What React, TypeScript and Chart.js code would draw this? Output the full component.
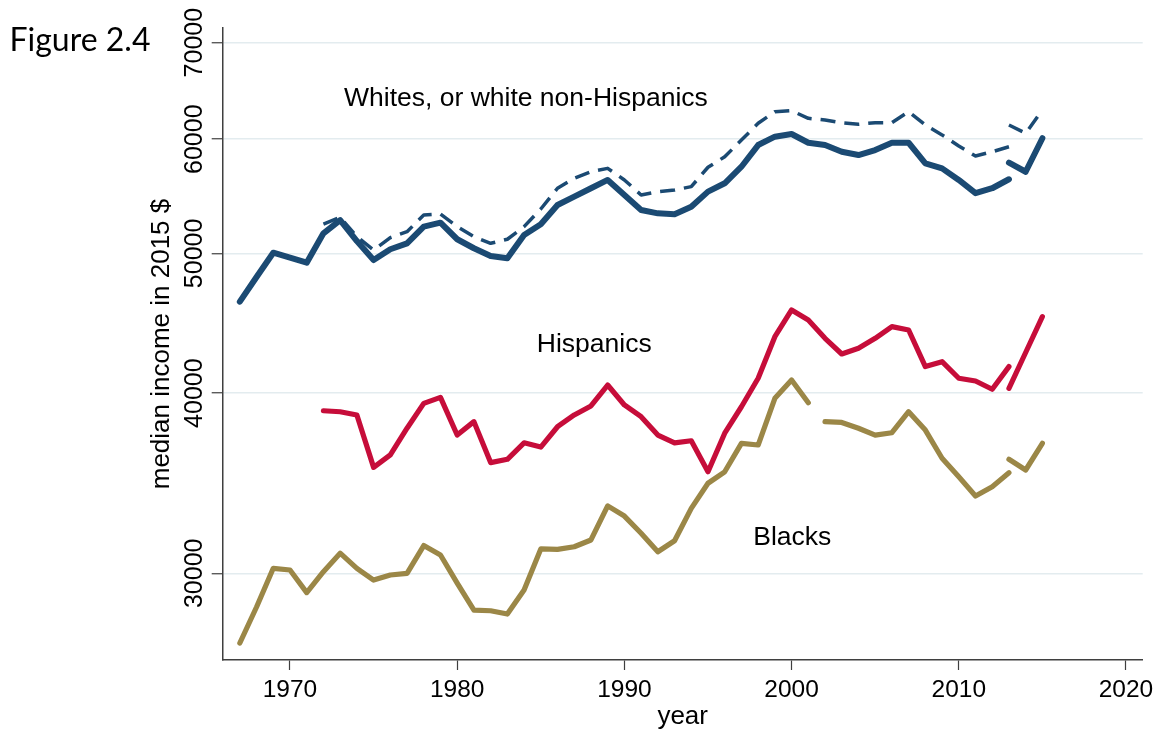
import React, { useEffect, useRef } from "react";
import { Chart, registerables } from "chart.js";

Chart.register(...registerables);

// ---------- data ----------
// years covered by the "old" CPS series (up to the first 2013 estimate)
const yearsA = [
  1967, 1968, 1969, 1970, 1971, 1972, 1973, 1974, 1975, 1976,
  1977, 1978, 1979, 1980, 1981, 1982, 1983, 1984, 1985, 1986,
  1987, 1988, 1989, 1990, 1991, 1992, 1993, 1994, 1995, 1996,
  1997, 1998, 1999, 2000, 2001, 2002, 2003, 2004, 2005, 2006,
  2007, 2008, 2009, 2010, 2011, 2012, 2013,
];
// years of the redesigned series (second 2013 estimate onward)
const yearsB = [2013, 2014, 2015];

const whitesA = [
  46290, 48150, 50050, 49660, 49260, 51630, 52730, 50990, 49470, 50330,
  50810, 52180, 52510, 51140, 50410, 49790, 49610, 51490, 52380, 54020,
  54740, 55480, 56220, 54890, 53590, 53300, 53220, 53870, 55180, 55920,
  57420, 59440, 60240, 60500, 59660, 59440, 58810, 58500, 58970, 59660,
  59660, 57730, 57270, 56220, 55040, 55480, 56280,
];
const whitesB = [57790, 56960, 60090];

const whiteNonHispA = [
  null, null, null, null, null, 52400, 52960, 51350, 50270, 51270,
  51760, 53160, 53240, 52180, 51350, 50810, 51140, 52180, 53670, 55480,
  56370, 56960, 57270, 56220, 54890, 55180, 55320, 55620, 57370, 58340,
  59920, 61540, 62690, 62790, 62030, 61870, 61600, 61450, 61600, 61600,
  62690, 61370, 60410, 59350, 58410, 58810, 59280,
];
const whiteNonHispB = [61370, 60570, 62870];

const hispanicsA = [
  null, null, null, null, null, 38890, 38830, 38630, 35530, 36240,
  37820, 39350, 39730, 37410, 38220, 35800, 35990, 36950, 36700, 37910,
  38630, 39190, 40520, 39250, 38520, 37410, 36950, 37070, 35280, 37520,
  39140, 40960, 43770, 45680, 44950, 43660, 42580, 42970, 43660, 44480,
  44240, 41730, 42060, 40960, 40780, 40250, 41730,
];
const hispanicsB = [40310, 42680, 45190];

const blacksA = [
  26840, 28430, 30240, 30160, 29090, 30080, 30980, 30240, 29680, 29920,
  30000, 31360, 30890, 29530, 28290, 28260, 28110, 29210, 31190, 31170,
  31300, 31640, 33410, 32870, 31980, 31050, 31600, 33280, 34640, 35280,
  36920, 36820, 39670, 40850, 39390, 38220, 38170, 37820, 37410, 37550,
  38830, 37710, 36050, 35000, 33940, 34450, 35230,
];
const blacksB = [35990, 35380, 36920];
// the black series is not connected between these years and the next one
const blacksBreaksAfter = [2001];

const yTickValues = [30000, 40000, 50000, 60000, 70000];
const xTickValues = [1970, 1980, 1990, 2000, 2010, 2020];

const labelTexts = ["Whites, or white non-Hispanics", "Hispanics", "Blacks"];
const labelYears = [1973.23, 1984.76, 1997.71];
const labelValues = [63265, 42735, 31387];

// ---------- styling ----------
const NAVY = "#1b4a73";
const RED = "#c60d3a";
const GOLD = "#9b8747";
const AXIS = "#3f3f3f";
const GRID = "#e3ecef";
const FONT = "'Liberation Sans', Arial, sans-serif";

function toPoints(years: number[], vals: (number | null)[], breaks: number[] = []) {
  const out: { x: number; y: number | null }[] = [];
  years.forEach((yr, i) => {
    out.push({ x: yr, y: vals[i] });
    if (breaks.includes(yr)) out.push({ x: yr + 0.5, y: null });
  });
  return out;
}

const textPlugin = {
  id: "stataText",
  afterDraw(chart: any) {
    const { ctx, chartArea, scales } = chart;
    const xs = scales.x;
    const ys = scales.y;
    ctx.save();
    ctx.fillStyle = "#000";

    // y tick labels (rotated, Stata style)
    ctx.font = `25px ${FONT}`;
    ctx.textAlign = "center";
    ctx.textBaseline = "alphabetic";
    yTickValues.forEach((v) => {
      const py = ys.getPixelForValue(v);
      ctx.save();
      ctx.translate(chartArea.left - 21, py);
      ctx.rotate(-Math.PI / 2);
      ctx.fillText(String(v), 0, 0);
      ctx.restore();
    });

    // x tick labels
    ctx.font = `24.5px ${FONT}`;
    ctx.textAlign = "center";
    ctx.textBaseline = "alphabetic";
    xTickValues.forEach((v) => {
      ctx.fillText(String(v), xs.getPixelForValue(v), chartArea.bottom + 37);
    });

    // series labels
    ctx.font = `26.5px ${FONT}`;
    ctx.textAlign = "left";
    labelTexts.forEach((t, i) => {
      ctx.fillText(t, xs.getPixelForValue(labelYears[i]), ys.getPixelForValue(labelValues[i]));
    });

    // figure caption
    ctx.font = "32px Lato, 'Open Sans', sans-serif";
    ctx.fillText("Figure 2.4", 9.5, 50.7);
    ctx.restore();
  },
};

export default function App() {
  const ref = useRef<HTMLCanvasElement | null>(null);

  useEffect(() => {
    if (!ref.current) return;
    const solid = { pointRadius: 0, tension: 0, borderCapStyle: "round", borderJoinStyle: "round", fill: false };
    const dashed = { pointRadius: 0, tension: 0, borderDash: [15, 9], borderCapStyle: "butt", borderJoinStyle: "round", fill: false };
    const chart = new Chart(ref.current, {
      type: "line",
      data: {
        datasets: [
          { label: "Whites", data: toPoints(yearsA, whitesA), borderColor: NAVY, borderWidth: 6, ...solid },
          { label: "Whites (redesign)", data: toPoints(yearsB, whitesB), borderColor: NAVY, borderWidth: 6, ...solid },
          { label: "White non-Hispanics", data: toPoints(yearsA, whiteNonHispA), borderColor: NAVY, borderWidth: 3.5, ...dashed },
          { label: "White non-Hispanics (redesign)", data: toPoints(yearsB, whiteNonHispB), borderColor: NAVY, borderWidth: 3.5, ...dashed },
          { label: "Hispanics", data: toPoints(yearsA, hispanicsA), borderColor: RED, borderWidth: 5.2, ...solid },
          { label: "Hispanics (redesign)", data: toPoints(yearsB, hispanicsB), borderColor: RED, borderWidth: 5.2, ...solid },
          { label: "Blacks", data: toPoints(yearsA, blacksA, blacksBreaksAfter), borderColor: GOLD, borderWidth: 5.2, ...solid },
          { label: "Blacks (redesign)", data: toPoints(yearsB, blacksB), borderColor: GOLD, borderWidth: 5.2, ...solid },
        ] as any,
      },
      options: {
        animation: false,
        responsive: false,
        maintainAspectRatio: false,
        spanGaps: false,
        layout: { padding: { left: 146.5, right: 16.3, top: 28, bottom: 0 } },
        plugins: { legend: { display: false }, tooltip: { enabled: false } },
        scales: {
          x: {
            type: "linear",
            min: 1965.975,
            max: 2021.0,
            afterBuildTicks: (s: any) => {
              s.ticks = xTickValues.map((v) => ({ value: v }));
            },
            ticks: { display: false },
            grid: { drawOnChartArea: false, drawTicks: true, tickLength: 10, tickColor: AXIS, tickWidth: 1.2 },
            border: { display: true, color: AXIS, width: 1.5 },
            title: {
              display: true,
              text: "year",
              color: "#000",
              font: { family: FONT, size: 26 },
              padding: { top: 31.4, bottom: 3.4 },
            },
          },
          y: {
            type: "logarithmic",
            min: 26122,
            max: 71655,
            afterBuildTicks: (s: any) => {
              s.ticks = yTickValues.map((v) => ({ value: v }));
            },
            ticks: { display: false },
            grid: { color: GRID, lineWidth: 1.5, drawTicks: true, tickLength: 11, tickColor: AXIS, tickWidth: 1.2 },
            border: { display: true, color: AXIS, width: 1.5 },
            title: {
              display: true,
              text: "median income in 2015 $",
              color: "#000",
              font: { family: FONT, size: 26 },
              padding: { top: 0, bottom: 34 },
            },
          },
        },
      } as any,
      plugins: [textPlugin],
    });
    return () => chart.destroy();
  }, []);

  return (
    <canvas
      ref={ref}
      width={1159}
      height={736}
      style={{ position: "absolute", left: 0, top: 0, width: 1159, height: 736, background: "#fff" }}
    />
  );
}
